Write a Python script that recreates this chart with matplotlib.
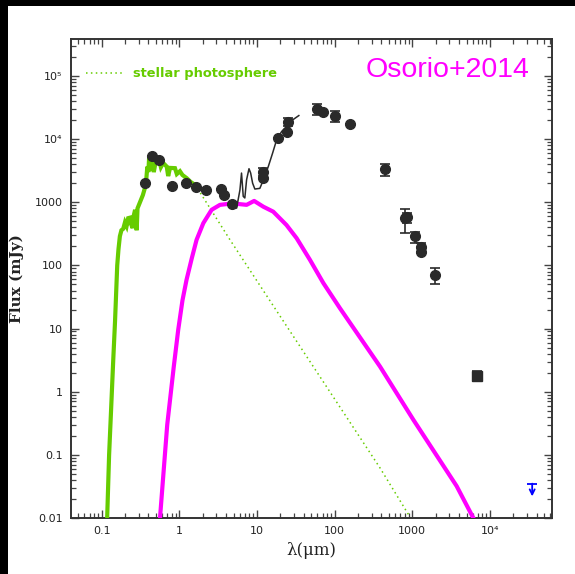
import numpy as np
import matplotlib
matplotlib.use("Agg")
import matplotlib.pyplot as plt
from matplotlib.patches import Rectangle
from matplotlib.ticker import LogLocator, FixedLocator, FixedFormatter, NullFormatter

# --- photometry (wavelength in micron, flux in mJy) ---
phot_wl = [0.36, 0.44, 0.55, 0.80, 1.22, 1.64, 2.19, 3.44, 3.80, 4.8,
           11.8, 12.0, 18.8, 24.5, 25.0, 59.7, 70.0, 100.0, 160.0,
           444.0, 804.0, 850.0, 1090.0, 1280.0, 1280.0, 1970.0]
phot_f = [2000, 5420, 4700, 1820, 2000, 1770, 1570, 1620, 1280, 955,
          3060, 2400, 10570, 13200, 18500, 29700, 27200, 23500, 17400,
          3340, 560, 580, 287, 195, 166, 70]
phot_err_lo = [0, 0, 0, 0, 0, 0, 0, 0, 0, 0,
               440, 0, 0, 0, 2300, 5500, 0, 4600, 0,
               710, 229, 103, 57, 38, 0, 19]
phot_err_hi = [0, 0, 0, 0, 0, 0, 0, 0, 0, 0,
               480, 0, 0, 0, 3400, 5900, 0, 4400, 0,
               670, 227, 100, 57, 35, 0, 20]

# centimetre point (square) and upper limit
cm_wl, cm_f, cm_lo, cm_hi = [6840.0], [1.77], [0.28], [0.33]
ul_wl, ul_f, ul_tip = 34900.0, 0.035, 0.022

# --- IRS spectrum ---
irs_wl = [4.96, 5.47, 6.04, 6.33, 6.66, 6.98, 7.36, 7.9, 8.3, 8.8, 9.4,
          10.9, 12.1, 14.0, 15.9, 17.9, 20.8, 24.0, 27.9, 34.6]
irs_f = [955, 807, 1570, 2900, 1240, 1170, 2280, 3400, 2900, 2000, 1620,
         1660, 2270, 3680, 6000, 9700, 13200, 15800, 19600, 23600]

# --- stellar photosphere model ---
star_wl = [0.118, 0.125, 0.132, 0.141, 0.149, 0.159, 0.165, 0.172, 0.18, 0.19,
           0.20, 0.21, 0.22, 0.232, 0.24, 0.251, 0.26, 0.27, 0.283, 0.29,
           0.312, 0.34, 0.36, 0.375, 0.388, 0.40, 0.41, 0.43, 0.45, 0.47,
           0.50, 0.55, 0.58, 0.62, 0.69, 0.72, 0.76, 0.88, 0.93, 1.02,
           1.10, 1.25, 1.40, 1.60]
star_f = [0.01, 0.1, 0.46, 3, 13, 100, 180, 290, 360, 380,
          480, 420, 560, 570, 450, 390, 620, 760, 360, 800,
          1000, 1300, 1660, 2200, 3670, 3000, 5300, 3200, 4800, 3000,
          4600, 4700, 3600, 4200, 3670, 2600, 3500, 3470, 2800, 3100,
          2700, 2400, 2100, 1880]

# Rayleigh-Jeans extension of the photosphere
rj_wl = [1.6, 4.5, 17.0, 384.0, 950.0]
rj_f = [1900, 254, 21, 0.062, 0.01]

# --- disk model ---
disk_wl = [0.565, 0.7, 0.85, 0.97, 1.1, 1.24, 1.45, 1.67, 2.04, 2.61, 3.34,
           4.2, 5.47, 7.36, 9.2, 12.1, 16.2, 24.0, 32.4, 48.0, 71.5, 117.0,
           384.0, 1030.0, 3720.0, 6100.0]
disk_f = [0.01, 0.3, 2.5, 9.6, 28, 59, 130, 254, 467, 760, 910,
          940, 945, 910, 1050, 850, 710, 436, 270, 123, 52.6, 21,
          2.5, 0.36, 0.032, 0.01]

x_ticks = [0.1, 1, 10, 100, 1000, 1e4]
x_labels = ["0.1", "1", "10", "100", "1000", "10\u2074"]
y_ticks = [0.01, 0.1, 1, 10, 100, 1000, 1e4, 1e5]
y_labels = ["0.01", "0.1", "1", "10", "100", "1000", "10\u2074", "10\u2075"]

GREEN = "#66cc00"
MAGENTA = "#ff00ff"
DARK = "#2a2a2a"

fig = plt.figure(figsize=(5.75, 5.74), dpi=100, facecolor="black")
fig.add_artist(Rectangle((8 / 575, 0), 1, 568 / 574, transform=fig.transFigure,
                         facecolor="white", edgecolor="none", zorder=-10))

ax = fig.add_axes([71 / 575, 1 - 518 / 574, 481 / 575, 479 / 574])
ax.set_xscale("log")
ax.set_yscale("log")
ax.set_xlim(0.0404, 62800)
ax.set_ylim(0.01, 3.85e5)

ax.plot(rj_wl, rj_f, color=GREEN, lw=1.1, ls=(0, (1, 2.2)), zorder=2)
ax.plot(star_wl, star_f, color=GREEN, lw=3.0, solid_joinstyle="miter", zorder=3)
ax.plot(disk_wl, disk_f, color=MAGENTA, lw=3.0, zorder=3)
ax.plot(irs_wl, irs_f, color=DARK, lw=1.1, zorder=4)

ax.errorbar(phot_wl, phot_f, yerr=[phot_err_lo, phot_err_hi], fmt="o",
            color=DARK, ms=7, elinewidth=1.2, capsize=3.5, capthick=1.2,
            zorder=5)
ax.errorbar(cm_wl, cm_f, yerr=[cm_lo, cm_hi], fmt="s", color=DARK, ms=6.5,
            elinewidth=1.2, capsize=3.5, capthick=1.2, zorder=5)

# upper limit
ax.plot([ul_wl], [ul_f], marker="_", color="blue", ms=7, mew=1.3, zorder=5)
ax.annotate("", xy=(ul_wl, ul_tip), xytext=(ul_wl, ul_f),
            arrowprops=dict(arrowstyle="->", color="blue", lw=1.3,
                            mutation_scale=9, shrinkA=0, shrinkB=0),
            zorder=5)

# axes styling
for sp in ax.spines.values():
    sp.set_color("#333333")
    sp.set_linewidth(1.4)
ax.xaxis.set_major_locator(FixedLocator(x_ticks))
ax.xaxis.set_major_formatter(FixedFormatter(x_labels))
ax.yaxis.set_major_locator(FixedLocator(y_ticks))
ax.yaxis.set_major_formatter(FixedFormatter(y_labels))
for axis in (ax.xaxis, ax.yaxis):
    axis.set_minor_locator(LogLocator(base=10, subs=np.arange(2, 10), numticks=100))
    axis.set_minor_formatter(NullFormatter())
ax.tick_params(which="both", direction="in", top=True, right=True,
               color="#444444", labelsize=8, labelcolor="#222222")
ax.tick_params(which="major", length=6, width=1.0, pad=6)
ax.tick_params(which="minor", length=3.5, width=0.9)

ax.set_xlabel("\u03bb(\u03bcm)", family="DejaVu Serif", fontsize=12,
              color="#222222", labelpad=4)
ax.set_ylabel("Flux (mJy)", family="DejaVu Serif", fontweight="bold",
              fontsize=11, color="#222222", labelpad=8)

# legend entry and reference label
ax.plot([0.031, 0.106], [0.929, 0.929], transform=ax.transAxes, color=GREEN,
        lw=1.1, ls=(0, (1, 2.2)))
ax.text(0.129, 0.929, "stellar photosphere", transform=ax.transAxes,
        color=GREEN, fontsize=9.4, fontweight="bold", va="center", ha="left")
ax.text(0.613, 0.921, "Osorio+2014", transform=ax.transAxes, color=MAGENTA,
        fontsize=20.5, family="Liberation Sans", va="baseline", ha="left")

fig.savefig("out.png", dpi=100, facecolor=fig.get_facecolor())
